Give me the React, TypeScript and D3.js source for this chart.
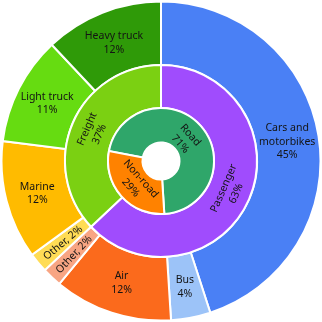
import * as d3 from 'd3';

// outer ring: modes
const modeNames = ['Cars and motorbikes', 'Bus', 'Air', 'Other', 'Other', 'Marine', 'Light truck', 'Heavy truck'];
const modeValues = [45, 4, 12, 2, 2, 12, 11, 12];
const modeColors = ['#4a80f5', '#9cc3f8', '#fb6a1c', '#f8a583', '#ffdc55', '#ffbb00', '#66dc11', '#2f9a08'];
const modeLines = [['Cars and', 'motorbikes', '45%'], ['Bus', '4%'], ['Air', '12%'], ['Other, 2%'], ['Other, 2%'], ['Marine', '12%'], ['Light truck', '11%'], ['Heavy truck', '12%']];

// middle ring: purpose
const purposeNames = ['Passenger', 'Freight'];
const purposeValues = [63, 37];
const purposeColors = ['#a04cfd', '#7bd012'];

// inner ring: road / non-road
const roadNames = ['Road', 'Non-road'];
const roadValues = [71, 29];
const roadColors = ['#2fa66a', '#ff8200'];

const W = 322;
const H = 322;
const cx = 161;
const cy = 161;
const R = { hole: 18.5, inner: 53, middle: 96, outer: 159.5 };

type Slice = d3.PieArcDatum<number>;

const deg = (a: number) => (a * 180) / Math.PI;

function ring(values: number[], start: number) {
  const total = d3.sum(values);
  return d3
    .pie<number>()
    .sort(null)
    .value((d) => d)
    .startAngle(start)
    .endAngle(start + 2 * Math.PI * (total / total))(values);
}

export default function App() {
  const modeTotal = d3.sum(modeValues);
  // road ring ends where cars + bus end
  const roadEnd = ((modeValues[0] + modeValues[1]) / modeTotal) * 2 * Math.PI;
  const roadStart = roadEnd - (roadValues[0] / d3.sum(roadValues)) * 2 * Math.PI;

  const outer = ring(modeValues, 0);
  const middle = ring(purposeValues, 0);
  const inner = ring(roadValues, roadStart);

  const arcOuter = d3.arc<Slice>().innerRadius(R.middle).outerRadius(R.outer);
  const arcMiddle = d3.arc<Slice>().innerRadius(R.inner).outerRadius(R.middle);
  const arcInner = d3.arc<Slice>().innerRadius(R.hole).outerRadius(R.inner);

  const lh = 13.5;

  const block = (lines: string[], key: string) =>
    lines.map((t, i) => (
      <text key={key + i} y={(i - (lines.length - 1) / 2) * lh} dy="0.35em" textAnchor="middle">
        {t}
      </text>
    ));

  // tangential label: rotate along the ring, keep it upright
  const tangential = (s: Slice, r: number) => {
    const a = (s.startAngle + s.endAngle) / 2;
    const x = Math.sin(a) * r;
    const y = -Math.cos(a) * r;
    let rot = deg(a);
    const n = ((rot % 360) + 360) % 360;
    rot = n > 90 && n < 270 ? n - 180 : n > 270 ? n - 360 : n;
    return `translate(${x},${y}) rotate(${rot})`;
  };

  // radial label for thin slices
  const radial = (s: Slice, r: number) => {
    const a = (s.startAngle + s.endAngle) / 2;
    const x = Math.sin(a) * r;
    const y = -Math.cos(a) * r;
    const d = deg(a);
    const rot = d < 180 ? d - 90 : d - 270;
    return `translate(${x},${y}) rotate(${rot})`;
  };

  const midR = (R.middle + R.outer) / 2;

  return (
    <svg width={W} height={H} style={{ position: 'fixed', left: 0, top: 0 }}>
      <g transform={`translate(${cx},${cy})`} fontFamily="'Noto Sans', sans-serif" fontSize={10.5} fill="#141414">
        {outer.map((s, i) => (
          <path key={'o' + i} d={arcOuter(s) || ''} fill={modeColors[i]} stroke="#fff" strokeWidth={2} />
        ))}
        {middle.map((s, i) => (
          <path key={'m' + i} d={arcMiddle(s) || ''} fill={purposeColors[i]} stroke="#fff" strokeWidth={2} />
        ))}
        {inner.map((s, i) => (
          <path key={'i' + i} d={arcInner(s) || ''} fill={roadColors[i]} stroke="#fff" strokeWidth={2} />
        ))}

        {outer.map((s, i) => {
          if (modeValues[i] <= 2) {
            return (
              <g key={'ol' + i} transform={radial(s, midR)}>
                {block(modeLines[i], 'ol' + i)}
              </g>
            );
          }
          const [x, y] = arcOuter.centroid(s);
          return (
            <g key={'ol' + i} transform={`translate(${x},${y})`}>
              {block(modeLines[i], 'ol' + i)}
            </g>
          );
        })}
        {middle.map((s, i) => (
          <g key={'ml' + i} transform={tangential(s, (R.inner + R.middle) / 2)}>
            {block([purposeNames[i], purposeValues[i] + '%'], 'ml' + i)}
          </g>
        ))}
        {inner.map((s, i) => (
          <g key={'il' + i} transform={tangential(s, 33)}>
            {block([roadNames[i], roadValues[i] + '%'], 'il' + i)}
          </g>
        ))}
      </g>
    </svg>
  );
}
